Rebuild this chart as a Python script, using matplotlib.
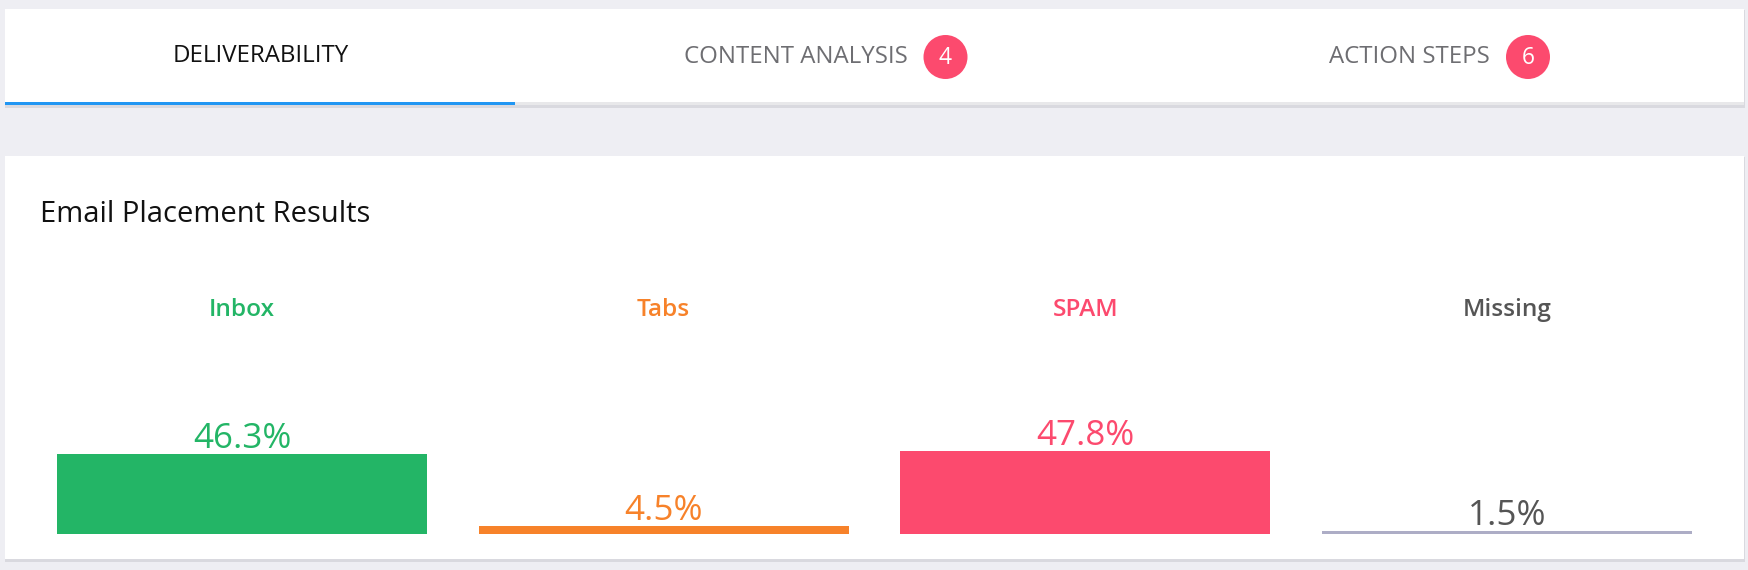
import matplotlib
matplotlib.use("Agg")
import matplotlib.pyplot as plt
from matplotlib.patches import Rectangle, Circle
from matplotlib.transforms import blended_transform_factory

# ---- data ----
tabs = ["DELIVERABILITY", "CONTENT ANALYSIS", "ACTION STEPS"]
tab_badges = [None, "4", "6"]
title = "Email Placement Results"
categories = ["Inbox", "Tabs", "SPAM", "Missing"]
values = [46.3, 4.5, 47.8, 1.5]
value_labels = ["46.3%", "4.5%", "47.8%", "1.5%"]

# ---- styles ----
bar_colors = ["#23b566", "#f7822a", "#fc4a6e", "#adadc6"]
label_colors = ["#23b566", "#f7822a", "#fc4a6e", "#555555"]
BG = "#eeeef3"
FONT = ["Open Sans", "DejaVu Sans"]

W, H = 1749, 570
fig = plt.figure(figsize=(W / 100, H / 100), dpi=100)
fig.patch.set_facecolor(BG)
bg = fig.add_axes([0, 0, 1, 1])
bg.set_xlim(0, W)
bg.set_ylim(H, 0)
bg.axis("off")
bg.set_facecolor(BG)

renderer = fig.canvas.get_renderer()


def fit(t, target):
    bb = t.get_window_extent(renderer)
    t.set_fontsize(t.get_fontsize() * target / bb.width)
    return t.get_fontsize()


def rect(x0, y0, x1, y1, color, z=1):
    bg.add_patch(Rectangle((x0, y0), x1 - x0, y1 - y0, facecolor=color,
                           edgecolor="none", zorder=z))


# top card
rect(5, 10, 1745, 107.5, "#d9d9df", 1)
rect(5, 9, 1744, 102, "white", 2)
rect(5, 102, 1744, 105, "#e8e8ea", 2)
rect(5, 102, 515, 105, "#2196f3", 3)

# bottom card
rect(5, 157, 1745, 562, "#d9d9df", 1)
rect(5, 156, 1744, 559, "white", 2)

# tabs
t0 = bg.text(260.5, 62, tabs[0], ha="center", va="baseline", color="#111111",
             family=FONT, fontsize=14, zorder=5)
fs_tab = fit(t0, 176)
t1 = bg.text(684, 63, tabs[1], ha="left", va="baseline", color="#6e6e72",
             family=FONT, fontsize=fs_tab, zorder=5)
t2 = bg.text(1329, 63, tabs[2], ha="left", va="baseline", color="#6e6e72",
             family=FONT, fontsize=fs_tab, zorder=5)
for cx, num in [(945.5, tab_badges[1]), (1528, tab_badges[2])]:
    bg.add_patch(Circle((cx, 57), 22, facecolor="#fc4a6e", edgecolor="none", zorder=5))
    bg.text(cx, 63.5, num, ha="center", va="baseline", color="white",
            family=FONT, fontsize=fs_tab * 0.95, zorder=6)

# title
tt = bg.text(40.5, 222, title, ha="left", va="baseline", color="#111111",
             family=FONT, fontsize=18, zorder=5)
fit(tt, 330)

# chart axes
slot = 421.65
left_px = 242 - slot / 2
bottom_px = 534
scale = 80 / 46.3  # px per percent
ax = fig.add_axes([left_px / W, (H - bottom_px) / H, 4 * slot / W, 100 * scale / H])
ax.set_xlim(-0.5, 3.5)
ax.set_ylim(0, 100)
ax.axis("off")
ax.patch.set_alpha(0)
ax.set_zorder(10)

xs = list(range(len(categories)))
ax.bar(xs, values, width=370 / slot, color=bar_colors, edgecolor="none")

trans = blended_transform_factory(ax.transData, bg.transData)
fs_cat = None
for i, (c, col) in enumerate(zip(categories, label_colors)):
    t = ax.text(i, 316, c, transform=trans, ha="center", va="baseline",
                color=col, family=FONT, fontweight="semibold",
                fontsize=fs_cat if fs_cat else 13)
    if fs_cat is None:
        fs_cat = fit(t, 66)

fs_val = None
for i, (v, lab, col) in enumerate(zip(values, value_labels, label_colors)):
    t = ax.annotate(lab, (i, v), xytext=(0, 6.0 * 0.72), textcoords="offset points",
                    ha="center", va="baseline", color=col, family=FONT,
                    fontsize=fs_val if fs_val else 20)
    if fs_val is None:
        fs_val = fit(t, 98)

fig.savefig("out.png", dpi=100, facecolor=BG)
